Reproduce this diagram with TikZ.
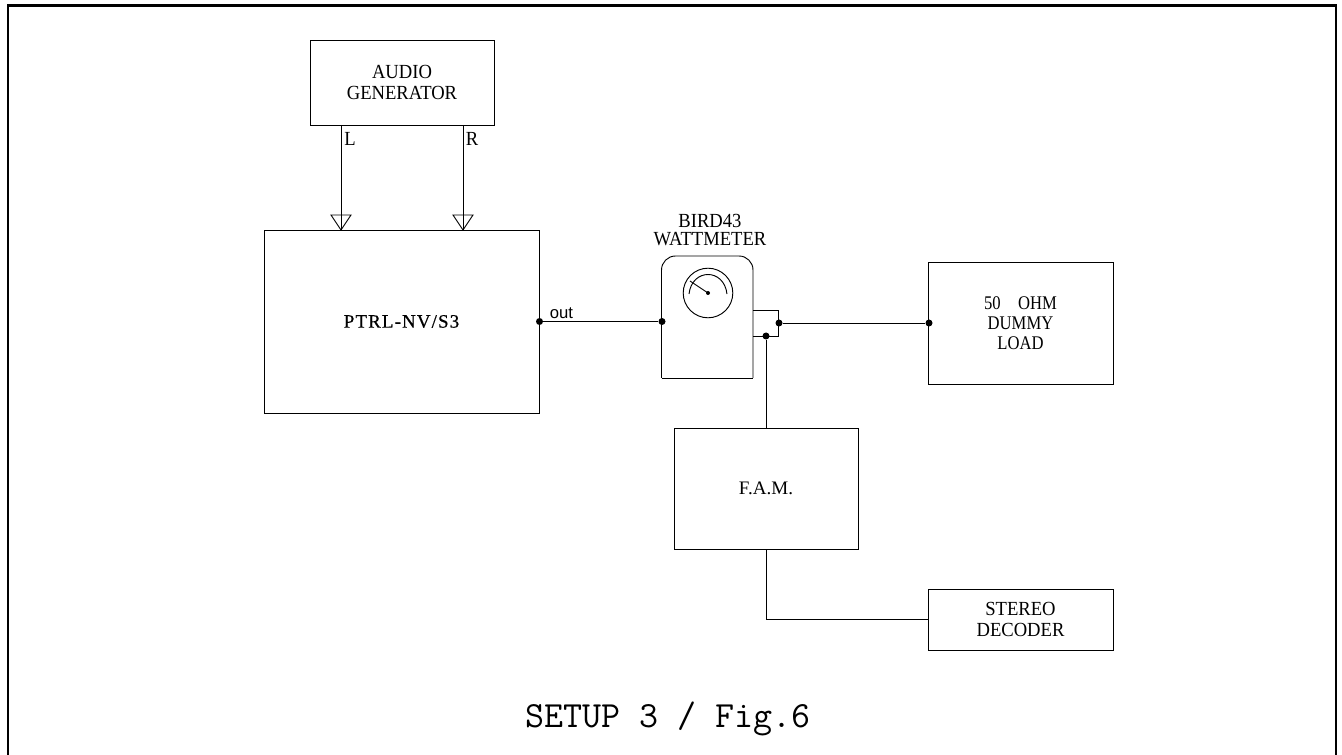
\documentclass[tikz,border=0pt]{standalone}
\usepackage{fontspec}
\newfontfamily\labfont[FakeStretch=0.93]{Liberation Serif}
\newfontfamily\labnarrow[FakeStretch=0.86]{Liberation Serif}
\newfontfamily\labplain{Liberation Serif}
\newfontfamily\labbold[FakeBold=0.5,LetterSpace=6]{Liberation Serif}
\newfontfamily\outfont{Liberation Sans}
\begin{document}
\begin{tikzpicture}[x=0.75pt,y=-0.75pt,
  wire/.style={line width=0.7pt,black},
  box/.style={draw,line width=0.7pt,black,inner sep=0pt,outer sep=0pt,align=center,text=black,
    font=\fontsize{15}{15.75}\selectfont\labfont},
  lbl/.style={inner sep=0pt,align=center,text=black,font=\fontsize{15}{15.75}\selectfont\labfont},
  dotn/.style={circle,fill=black,inner sep=0pt,minimum size=5.25pt},
  frameline/.style={line width=2pt,black}]
\useasboundingbox (0,0) rectangle (1342,755);
\coordinate (fbl) at (8,756);
\coordinate (ftl) at (8,5.5);
\coordinate (ftr) at (1336,5.5);
\coordinate (fbr) at (1336,756);
\draw[frameline] (fbl) -- (ftl) -- (ftr) -- (fbr);

\node[box,minimum width=138pt,minimum height=63.75pt] (audio) at (402,82.5) {AUDIO\\GENERATOR};
\node[box,minimum width=206.25pt,minimum height=137.25pt,font=\fontsize{14.2}{15.75}\selectfont\labbold] (ptrl) at (401.5,321.5) {PTRL-NV/S3};
\node[box,minimum width=138.75pt,minimum height=91.5pt,font=\fontsize{14.5}{14.8}\selectfont\labnarrow] (load) at (1020.5,323) {50\hspace{0.9em}OHM\\DUMMY\\LOAD};
\node[box,minimum width=138pt,minimum height=90.75pt,font=\fontsize{14.3}{15}\selectfont\labplain] (fam) at (766,488.5) {F.A.M.};
\node[box,minimum width=138.75pt,minimum height=45.75pt] (stereo) at (1020.5,619.5) {STEREO\\DECODER};

% Wattmeter body
\coordinate (wbl) at (661.5,378);
\coordinate (wbr) at (753,378);
\coordinate (wsb) at (753,336);
\coordinate (wst) at (753,310);
\coordinate (stubtr) at (778,310);
\coordinate (stubbr) at (778,336);
\draw[wire,rounded corners=10.5pt] (wbl) -- (661.5,256) -- (753,256) -- (wbr);
\draw[wire] (wbl) -- (wbr);
\draw[wire] (wst) -- (stubtr) -- (stubbr) -- (wsb);
% dial
\coordinate (dial) at (708,293);
\draw[wire] (dial) circle[radius=18.6pt];
\draw[wire] (689,294) .. controls (692,268) and (724,268) .. (727,294);
\draw[wire] (dial) -- (690,281);
\fill (dial) circle[radius=1.5pt];

\node[lbl,font=\fontsize{15}{13.5}\selectfont\labfont] (wlabel) at (710,230) {BIRD43\\WATTMETER};
\node[dotn] (wattin) at (662,321.5) {};
\node[dotn] (wattout) at (779,323) {};
\node[dotn] (wattsample) at (766,336) {};
\node[dotn] (pout) at (539.5,321.5) {};
\node[dotn] (loadin) at (929,323) {};
\draw[wire] (pout) -- (wattin);
\draw[wire] (wattout) -- (loadin);
\draw[wire] (wattsample) -- (wattsample |- fam.north);
\coordinate (famout) at (766,549);
\draw[wire] (famout) |- (stereo.west);
\node[inner sep=0pt,font=\fontsize{12.5}{14}\selectfont\outfont] (outlbl) at (561.5,313) {out};

% audio lines with open triangles
\coordinate (ltop) at (341,125);
\coordinate (ltip) at (341,230);
\coordinate (la) at (331,215);
\coordinate (lb) at (351,215);
\coordinate (rtop) at (463,125);
\coordinate (rtip) at (463,230);
\coordinate (ra) at (453,215);
\coordinate (rb) at (473,215);
\draw[wire] (ltop) -- (ltip);
\draw[wire] (rtop) -- (rtip);
\draw[wire,line join=miter] (la) -- (lb) -- (ltip) -- cycle;
\draw[wire,line join=miter] (ra) -- (rb) -- (rtip) -- cycle;
\node[lbl] (llbl) at (350,139) {L};
\node[lbl] (rlbl) at (472,139) {R};

\node[inner sep=0pt,font=\fontsize{27.7}{30}\selectfont\ttfamily] (title) at (668,719) {SETUP 3 / Fig.6};
\end{tikzpicture}
\end{document}
